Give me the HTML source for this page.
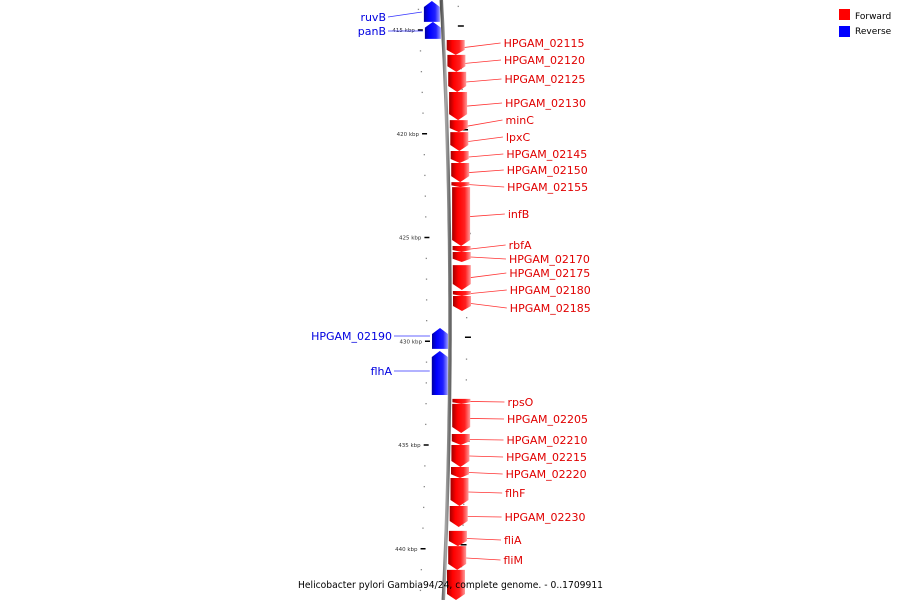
<!DOCTYPE html>
<html><head><meta charset="utf-8"><style>
body{margin:0;background:#fff;}
svg{display:block;}
text{font-family:"DejaVu Sans","Liberation Sans",sans-serif;}
</style></head><body>
<svg id="map" width="900" height="600" viewBox="0 0 900 600">
<defs>
<linearGradient id="gRed" x1="0" x2="1" y1="0" y2="0">
<stop offset="0" stop-color="#a00000"/><stop offset="0.3" stop-color="#ff0000"/><stop offset="0.7" stop-color="#ff2020"/><stop offset="1" stop-color="#ff9a9a"/></linearGradient>
<linearGradient id="gBlue" x1="0" x2="1" y1="0" y2="0">
<stop offset="0" stop-color="#0000a0"/><stop offset="0.3" stop-color="#0000ff"/><stop offset="0.7" stop-color="#2020ff"/><stop offset="1" stop-color="#9a9aff"/></linearGradient>
<linearGradient id="gLine" x1="0" x2="1"><stop offset="0" stop-color="#555"/><stop offset="0.5" stop-color="#aaa"/><stop offset="1" stop-color="#666"/></linearGradient>
</defs>
<g id="ticks"></g>
<g id="backbone"></g>
<g id="genes"></g>
<g id="labels"></g>
<g>
<rect x="839" y="9" width="11" height="11" fill="#f00"/>
<text x="855" y="19" font-size="9" fill="#000">Forward</text>
<rect x="839" y="26" width="11" height="11" fill="#00f"/>
<text x="855" y="34" font-size="9" fill="#000">Reverse</text>
</g>
<text x="298" y="588" font-size="10" textLength="305" lengthAdjust="spacingAndGlyphs" fill="#000">Helicobacter pylori Gambia94/24, complete genome. - 0..1709911</text>
</svg>
<script>
const geneNames = ["ruvB","panB","HPGAM_02115","HPGAM_02120","HPGAM_02125","HPGAM_02130","minC","lpxC","HPGAM_02145","HPGAM_02150","HPGAM_02155","infB","rbfA","HPGAM_02170","HPGAM_02175","HPGAM_02180","HPGAM_02185","HPGAM_02190","flhA","rpsO","HPGAM_02205","HPGAM_02210","HPGAM_02215","HPGAM_02220","flhF","HPGAM_02230","fliA","fliM",""];
const geneStart = [413.60,414.61,415.48,416.20,417.02,417.99,419.34,419.92,420.83,421.41,422.33,422.57,425.41,425.70,426.33,427.58,427.82,429.36,430.47,432.78,433.02,434.47,435.00,436.06,436.59,437.94,439.14,439.87,441.02];
const geneEnd   = [414.61,415.43,416.20,417.02,417.99,419.34,419.92,420.83,421.41,422.33,422.57,425.41,425.70,426.18,427.53,427.82,428.54,430.37,432.59,433.02,434.42,435.00,436.06,436.59,437.94,438.95,439.87,441.02,442.47];
const geneStrand = [-1,-1,1,1,1,1,1,1,1,1,1,1,1,1,1,1,1,-1,-1,1,1,1,1,1,1,1,1,1,1];
const majorTicks = [415,420,425,430,435,440];
const labelY = [17,31,43,60,79,103,120,137,154,170,187,214,245,259,273,290,308,336,371,402,419,440,457,474,493,517,540,560,0];

const NS="http://www.w3.org/2000/svg";
const yOf = kb => 30 + (kb-415)*20.75;
const cx = y => 450 - 8.5e-5*(y-320)*(y-320);
function mk(tag, attrs, parent){const e=document.createElementNS(NS,tag);for(const k in attrs)e.setAttribute(k,attrs[k]);parent.appendChild(e);return e;}

// backbone
const bb=document.getElementById('backbone');
let d="";for(let y=0;y<=600;y+=10){d+=(y?"L":"M")+cx(y).toFixed(1)+" "+y;}
const bl=mk('path',{d:d,stroke:"url(#gLine)","stroke-width":3.5,fill:"none"},bb);



// ticks
const tg=document.getElementById('ticks');
for(let kb=414;kb<=443;kb++){
  const y=yOf(kb);
  if(majorTicks.includes(kb)){
    const x=cx(y);
    const t1=mk('line',{x1:x-25,x2:x-20,y1:y,y2:y,stroke:"#000","stroke-width":1.5},tg);
    
    
    const t2=mk('line',{x1:x+15,x2:x+21,y1:y-4,y2:y-4,stroke:"#000","stroke-width":1.5},tg);
    
    
    const tl=mk('text',{x:x-28,y:y+2,"font-size":5.5,"text-anchor":"end",fill:"#333"},tg);
    tl.textContent=kb+" kbp";
    
    
  }
  for(let h=0;h<1;h+=1){
    const yl=y+ (majorTicks.includes(kb)?0:0);
    if(!majorTicks.includes(kb)){
      const a=mk('rect',{x:cx(yl)-24,y:yl-0.5,width:1.3,height:1.3,fill:"#888"},tg);
      
      
    }
    const yr=y-3;
    if(!majorTicks.includes(kb)){
      const b=mk('rect',{x:cx(yr)+16,y:yr-0.5,width:1.3,height:1.3,fill:"#888"},tg);
      
      
    }
  }
}

// genes
const gg=document.getElementById('genes'), lg=document.getElementById('labels');
for(let i=0;i<geneNames.length;i++){
  const y0=yOf(geneStart[i]), y1=yOf(geneEnd[i]);
  const ym=(y0+y1)/2, c=cx(ym), fwd=geneStrand[i]>0;
  const x0 = fwd? c+3 : c-18, x1 = fwd? c+21 : c-2;
  const xm=(x0+x1)/2, h=Math.min(6,(y1-y0)/3);
  let pts;
  if(fwd) pts=[[x0,y0],[x1,y0],[x1,y1-h],[xm,y1],[x0,y1-h]];
  else pts=[[xm,y0],[x1,y0+h],[x1,y1],[x0,y1],[x0,y0+h]];
  const p=mk('polygon',{points:pts.map(q=>q[0].toFixed(1)+","+q[1].toFixed(1)).join(" "),fill:fwd?"url(#gRed)":"url(#gBlue)"},gg);
  
  
  if(!geneNames[i]) continue;
  const col=fwd?"#e00000":"#0000e0", ly=labelY[i];
  if(fwd){
    const lx=510 - Math.abs(ly-300)*0.025;
    const ln=mk('line',{x1:x1,y1:ym,x2:lx-3,y2:ly,stroke:"#f33","stroke-width":0.8},lg);
    
    
    const t=mk('text',{x:lx,y:ly+4,"font-size":11,fill:col},lg);
    t.textContent=geneNames[i];
    
    
  } else {
    const lx= i<2?386:392;
    const ln=mk('line',{x1:lx+2,y1:ly,x2:x0-2,y2:i===0?ly-5:ly,stroke:"#33f","stroke-width":0.8},lg);
    
    
    const t=mk('text',{x:lx,y:ly+4,"font-size":11,fill:col,"text-anchor":"end"},lg);
    t.textContent=geneNames[i];
    
    
  }
}
</script>
</body></html>
